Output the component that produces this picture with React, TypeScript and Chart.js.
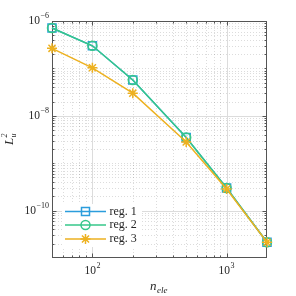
import React, { useEffect, useRef } from "react";
import { Chart, registerables } from "chart.js";
Chart.register(...registerables);

const nEle = [50, 100, 200, 500, 1000, 2000];
const reg1 = [7.1e-7, 3.0e-7, 5.7e-8, 3.5e-9, 3.0e-10, 2.15e-11];
const reg2 = [7.1e-7, 3.0e-7, 5.7e-8, 3.5e-9, 3.0e-10, 2.15e-11];
const reg3 = [2.65e-7, 1.03e-7, 3.0e-8, 2.8e-9, 2.85e-10, 2.15e-11];
const seriesLabels = ["reg. 1", "reg. 2", "reg. 3"];
const seriesColors = ["#2b9ddc", "#36c78a", "#edb120"];
const seriesMarkers = ["rect", "circle", "star"];
const xTicks = [100, 1000];
const xTickExp = ["2", "3"];
const yTicks = [1e-6, 1e-8, 1e-10];
const yTickExp = ["\u22126", "\u22128", "\u221210"];
const xMin = 50, xMax = 2000, yMin = 1e-11, yMax = 1e-6;

const FONT = "'Liberation Serif', 'Times New Roman', serif";

function minorValues(lo: number, hi: number, majors: number[]) {
  const out: number[] = [];
  for (let e = Math.floor(Math.log10(lo)); e <= Math.ceil(Math.log10(hi)); e++) {
    for (let k = 1; k <= 9; k++) {
      const v = k * Math.pow(10, e);
      if (v > lo * 1.0001 && v < hi * 0.9999 && !majors.some((m) => Math.abs(m - v) / m < 1e-6)) out.push(v);
    }
  }
  return out;
}

function drawMarker(ctx: CanvasRenderingContext2D, style: string, x: number, y: number, color: string) {
  ctx.save();
  ctx.strokeStyle = color;
  ctx.lineWidth = 1.5;
  ctx.beginPath();
  if (style === "rect") {
    const s = 4;
    ctx.rect(x - s, y - s, 2 * s, 2 * s);
  } else if (style === "circle") {
    ctx.arc(x, y, 4.5, 0, Math.PI * 2);
  } else {
    const r = 5;
    for (let i = 0; i < 4; i++) {
      const a = (i * Math.PI) / 4;
      ctx.moveTo(x - r * Math.cos(a), y - r * Math.sin(a));
      ctx.lineTo(x + r * Math.cos(a), y + r * Math.sin(a));
    }
  }
  ctx.stroke();
  ctx.restore();
}

function drawPow(ctx: CanvasRenderingContext2D, x: number, y: number, exp: string, align: "right" | "center") {
  ctx.font = `11.5px ${FONT}`;
  const wb = ctx.measureText("10").width;
  ctx.font = `8px ${FONT}`;
  const we = ctx.measureText(exp).width;
  const total = wb + we + 0.5;
  const x0 = align === "right" ? x - total : x - total / 2;
  ctx.textAlign = "left";
  ctx.textBaseline = "middle";
  ctx.font = `11.5px ${FONT}`;
  ctx.fillText("10", x0, y);
  ctx.font = `8px ${FONT}`;
  ctx.fillText(exp, x0 + wb + 0.5, y - 5);
}

const axesPlugin = {
  id: "matlabAxes",
  beforeDatasetsDraw(chart: any) {
    const { ctx, chartArea: a, scales } = chart;
    const xs = scales.x, ys = scales.y;
    ctx.save();
    // minor grid
    ctx.strokeStyle = "rgba(0,0,0,0.2)";
    ctx.lineWidth = 0.7;
    ctx.setLineDash([1, 2]);
    for (const v of minorValues(xMin, xMax, xTicks)) {
      const px = Math.round(xs.getPixelForValue(v)) + 0.5;
      ctx.beginPath(); ctx.moveTo(px, a.top); ctx.lineTo(px, a.bottom); ctx.stroke();
    }
    for (const v of minorValues(yMin, yMax, yTicks)) {
      const py = Math.round(ys.getPixelForValue(v)) + 0.5;
      ctx.beginPath(); ctx.moveTo(a.left, py); ctx.lineTo(a.right, py); ctx.stroke();
    }
    // major grid
    ctx.setLineDash([]);
    ctx.strokeStyle = "#dcdcdc";
    ctx.lineWidth = 1;
    for (const v of xTicks) {
      const px = Math.round(xs.getPixelForValue(v)) + 0.5;
      ctx.beginPath(); ctx.moveTo(px, a.top); ctx.lineTo(px, a.bottom); ctx.stroke();
    }
    for (const v of yTicks) {
      const py = Math.round(ys.getPixelForValue(v)) + 0.5;
      ctx.beginPath(); ctx.moveTo(a.left, py); ctx.lineTo(a.right, py); ctx.stroke();
    }
    // box
    ctx.strokeStyle = "#555555";
    ctx.lineWidth = 1;
    ctx.strokeRect(Math.round(a.left) + 0.5, Math.round(a.top) + 0.5, Math.round(a.right - a.left) - 1, Math.round(a.bottom - a.top) - 1);
    // ticks
    const tick = (isX: boolean, v: number, len: number) => {
      if (isX) {
        const px = Math.round(xs.getPixelForValue(v)) + 0.5;
        ctx.beginPath();
        ctx.moveTo(px, a.bottom); ctx.lineTo(px, a.bottom - len);
        ctx.moveTo(px, a.top); ctx.lineTo(px, a.top + len);
        ctx.stroke();
      } else {
        const py = Math.round(ys.getPixelForValue(v)) + 0.5;
        ctx.beginPath();
        ctx.moveTo(a.left, py); ctx.lineTo(a.left + len, py);
        ctx.moveTo(a.right, py); ctx.lineTo(a.right - len, py);
        ctx.stroke();
      }
    };
    for (const v of minorValues(xMin, xMax, xTicks)) tick(true, v, 2.5);
    for (const v of xTicks) tick(true, v, 4.5);
    for (const v of minorValues(yMin, yMax, yTicks)) tick(false, v, 2.5);
    for (const v of yTicks) tick(false, v, 4.5);
    // tick labels
    ctx.fillStyle = "#262626";
    yTicks.forEach((v, i) => drawPow(ctx, a.left - 3, ys.getPixelForValue(v), yTickExp[i], "right"));
    xTicks.forEach((v, i) => drawPow(ctx, xs.getPixelForValue(v), a.bottom + 13, xTickExp[i], "center"));
    // x title
    ctx.textAlign = "left";
    ctx.textBaseline = "alphabetic";
    ctx.font = `italic 13px ${FONT}`;
    const wn = ctx.measureText("n").width;
    ctx.font = `italic 9px ${FONT}`;
    const wsub = ctx.measureText("ele").width;
    const cx = (a.left + a.right) / 2 - 1;
    const x0 = cx - (wn + wsub) / 2;
    ctx.font = `italic 13px ${FONT}`;
    ctx.fillText("n", x0, 290);
    ctx.font = `italic 9px ${FONT}`;
    ctx.fillText("ele", x0 + wn + 0.5, 293);
    // y title
    ctx.save();
    ctx.translate(13, 139);
    ctx.rotate(-Math.PI / 2);
    ctx.font = `italic 13px ${FONT}`;
    const wl = ctx.measureText("L").width;
    const lx = -(wl + 5) / 2;
    ctx.fillText("L", lx, 0);
    ctx.font = `italic 8px ${FONT}`;
    ctx.fillText("2", lx + wl + 0.5, -6);
    ctx.fillText("u", lx + wl + 0.5, 3);
    ctx.restore();
    ctx.restore();
  },
  afterDatasetsDraw(chart: any) {
    const { ctx } = chart;
    ctx.save();
    ctx.fillStyle = "#ffffff";
    ctx.fillRect(62, 204, 80, 43);
    const rows = [211.5, 225, 239];
    seriesLabels.forEach((lab, i) => {
      const y = rows[i];
      ctx.strokeStyle = seriesColors[i];
      ctx.lineWidth = 1.5;
      ctx.beginPath(); ctx.moveTo(65, y); ctx.lineTo(106, y); ctx.stroke();
      drawMarker(ctx, seriesMarkers[i], 85.5, y, seriesColors[i]);
      ctx.fillStyle = "#262626";
      ctx.font = `12px ${FONT}`;
      ctx.textAlign = "left";
      ctx.textBaseline = "middle";
      ctx.fillText(lab, 109.5, y);
    });
    ctx.restore();
  },
};

export default function App() {
  const ref = useRef<HTMLCanvasElement | null>(null);
  useEffect(() => {
    if (!ref.current) return;
    const series = [reg1, reg2, reg3];
    const radii = [5.7, 4.5, 5];
    const chart = new Chart(ref.current, {
      type: "line",
      data: {
        datasets: series.map((s, i) => ({
          label: seriesLabels[i],
          data: nEle.map((x, j) => ({ x, y: s[j] })),
          borderColor: seriesColors[i],
          backgroundColor: "rgba(0,0,0,0)",
          pointBackgroundColor: "rgba(0,0,0,0)",
          pointBorderColor: seriesColors[i],
          pointStyle: seriesMarkers[i] as any,
          pointRadius: radii[i],
          pointBorderWidth: 1.5,
          borderWidth: 1.5,
          tension: 0,
          clip: false as any,
          order: 3 - i,
        })),
      },
      options: {
        animation: false,
        responsive: false,
        devicePixelRatio: 1,
        layout: { padding: { left: 52, right: 29, top: 21, bottom: 38 } },
        scales: {
          x: { type: "logarithmic", min: xMin, max: xMax, display: false },
          y: { type: "logarithmic", min: yMin, max: yMax, display: false },
        },
        plugins: { legend: { display: false }, tooltip: { enabled: false } },
      },
      plugins: [axesPlugin],
    });
    return () => chart.destroy();
  }, []);
  return (
    <div style={{ position: "fixed", left: 0, top: 0, width: 296, height: 296, background: "#fff" }}>
      <canvas ref={ref} width={296} height={296} style={{ width: 296, height: 296 }} />
    </div>
  );
}
